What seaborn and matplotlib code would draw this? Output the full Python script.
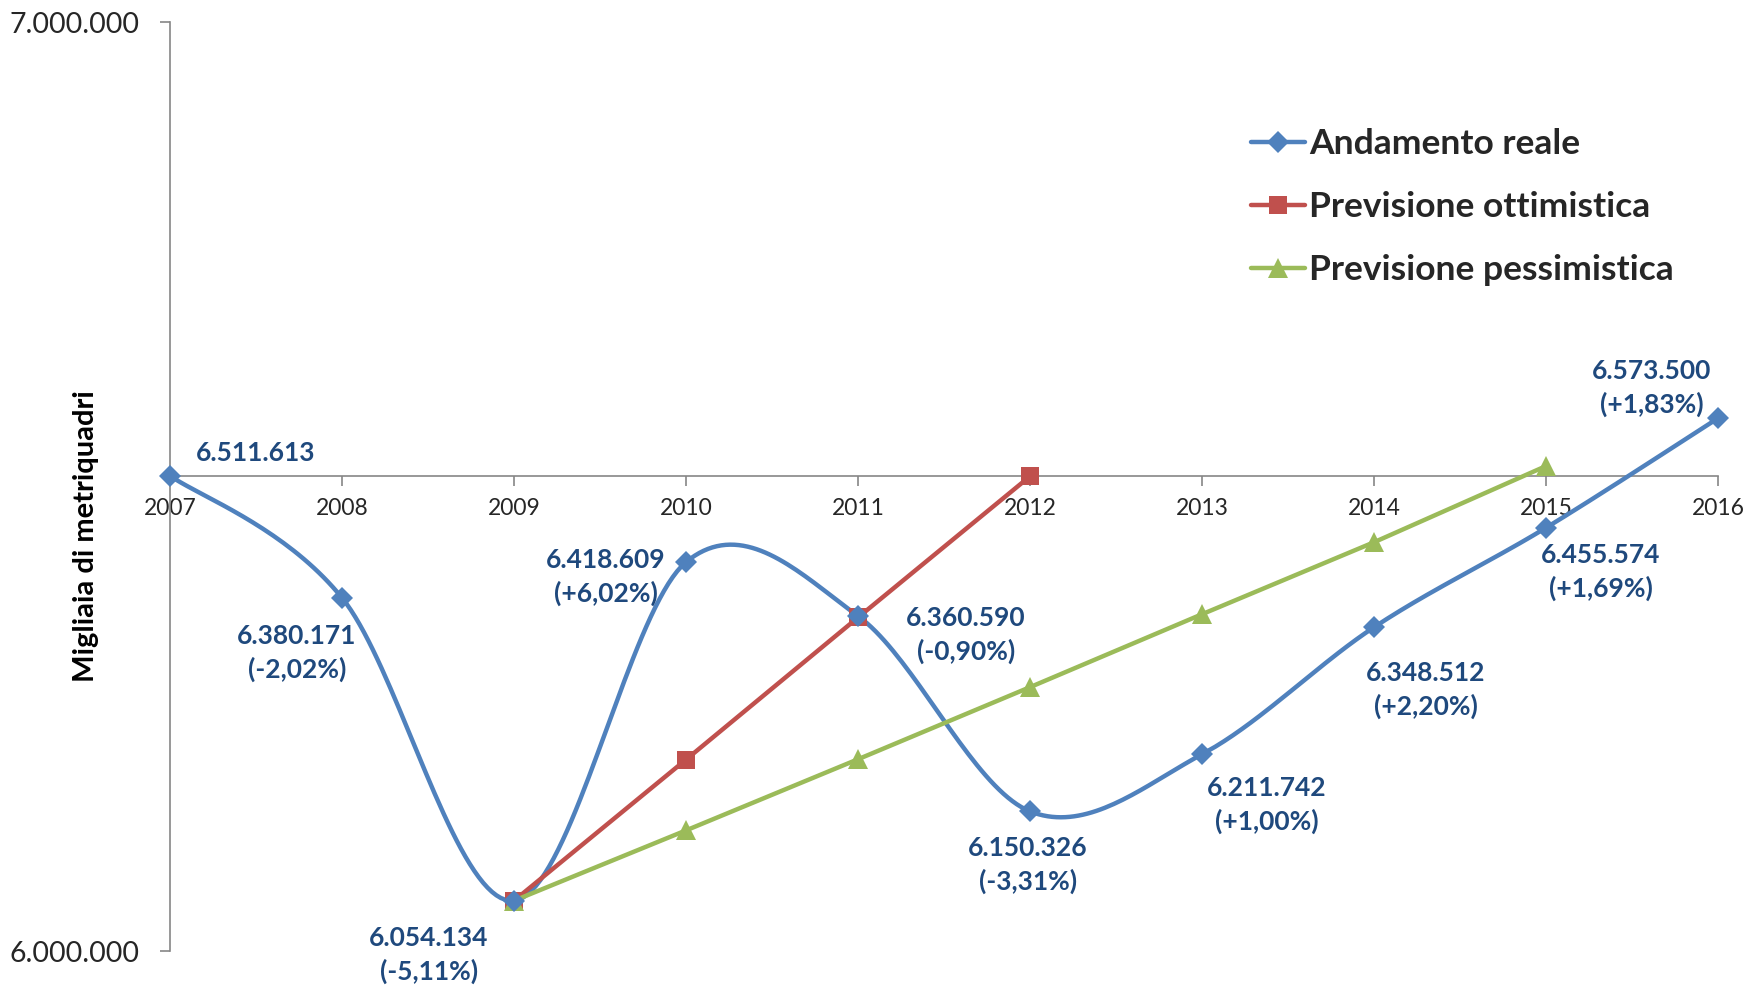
import numpy as np
import pandas as pd
import matplotlib
matplotlib.use("Agg")
import matplotlib.pyplot as plt
import seaborn as sns
from matplotlib.lines import Line2D
from matplotlib.ticker import FuncFormatter

years = [2007, 2008, 2009, 2010, 2011, 2012, 2013, 2014, 2015, 2016]
reale = [6511613, 6380171, 6054134, 6418609, 6360590, 6150326, 6211742, 6348512, 6455574, 6573500]
var_pct = ["", "(-2,02%)", "(-5,11%)", "(+6,02%)", "(-0,90%)", "(-3,31%)",
           "(+1,00%)", "(+2,20%)", "(+1,69%)", "(+1,83%)"]

anni_ott = [2009, 2010, 2011, 2012]
ottimistica = [6054134, 6206000, 6359000, 6511000]

anni_pess = [2009, 2010, 2011, 2012, 2013, 2014, 2015]
pessimistica = [6054134, 6129800, 6206400, 6284000, 6362500, 6440000, 6522000]

# label offsets in pixels (dx, dy) from each point
label_off = [(86, 23), (-45, -55), (-85, -54), (-80, -15), (108, -19),
             (-2, -54), (65, -51), (52, -63), (55, -44), (-66, 30)]

BLUE = "#4F81BD"
RED = "#C0504D"
GREEN = "#9BBB59"
LABEL = "#1F497D"
AXIS = "#868686"

sns.set_theme(style="white")
plt.rcParams['font.family'] = ['Lato', 'DejaVu Sans']


def smooth(xs, ys, n=40):
    # excel-like smoothed line (catmull-rom bezier)
    p = np.column_stack([xs, ys]).astype(float)
    out = []
    for i in range(len(p) - 1):
        p0 = p[i - 1] if i > 0 else p[i]
        p1, p2 = p[i], p[i + 1]
        p3 = p[i + 2] if i + 2 < len(p) else p[i + 1]
        c1 = p1 + (p2 - p0) / 6
        c2 = p2 - (p3 - p1) / 6
        t = np.linspace(0, 1, n)[:, None]
        seg = ((1 - t) ** 3) * p1 + 3 * ((1 - t) ** 2) * t * c1 + 3 * (1 - t) * t ** 2 * c2 + t ** 3 * p2
        out.append(seg if i == 0 else seg[1:])
    s = np.vstack(out)
    return s[:, 0], s[:, 1]


fig = plt.figure(figsize=(17.5, 9.91), dpi=100)
ax = fig.add_axes([170 / 1750, 1 - 951 / 991, (1718 - 170) / 1750, (951 - 22) / 991])

sx, sy = smooth(years, reale)
sns.lineplot(x=sx, y=sy, ax=ax, color=BLUE, lw=3.2, sort=False, zorder=3)
sns.lineplot(x=anni_ott, y=ottimistica, ax=ax, color=RED, lw=3.2, marker="s",
             markersize=13, markeredgewidth=0, zorder=4)
sns.lineplot(x=anni_pess, y=pessimistica, ax=ax, color=GREEN, lw=3.2, marker="^",
             markersize=15, markeredgewidth=0, zorder=5)
ax.plot(years, reale, ls="none", marker="D", color=BLUE, markersize=11,
        markeredgewidth=0, zorder=6, clip_on=False)
for ln in ax.lines:
    ln.set_clip_on(False)

for x, v, pct, (dx, dy) in zip(years, reale, var_pct, label_off):
    txt = f"{v:,}".replace(",", ".")
    if pct:
        txt += "\n" + pct
    ax.annotate(txt, (x, v), xytext=(dx, dy), textcoords="offset pixels",
                ha="center", va="center", fontsize=19, fontweight="bold",
                color=LABEL, linespacing=1.42, zorder=7)

ax.set_xlim(2007, 2016)
ax.set_ylim(6000000, 7000000)
ax.set_xticks(years)
ax.set_yticks([6000000, 7000000])
ax.yaxis.set_major_formatter(FuncFormatter(lambda v, p: f"{int(v):,}".replace(",", ".")))

for s in ["top", "right"]:
    ax.spines[s].set_visible(False)
ax.spines["bottom"].set_position(("data", reale[0]))
for s in ["left", "bottom"]:
    ax.spines[s].set_color(AXIS)
    ax.spines[s].set_linewidth(1.2)
ax.tick_params(axis="x", direction="out", length=7, width=1.2, color=AXIS,
               labelsize=16.5, pad=9, bottom=True)
ax.tick_params(axis="y", direction="out", length=7, width=1.2, color=AXIS,
               labelsize=20.5, pad=15, left=True)
ax.set_xlabel("")
ax.set_ylabel("")

fig.text(86 / 1750, 1 - 536 / 991, "Migliaia di metriquadri", rotation=90,
         ha="center", va="center", fontsize=21, fontweight="bold", color="black")

handles = [
    Line2D([], [], color=BLUE, lw=3.2, marker="D", markersize=11, markeredgewidth=0),
    Line2D([], [], color=RED, lw=3.2, marker="s", markersize=13, markeredgewidth=0),
    Line2D([], [], color=GREEN, lw=3.2, marker="^", markersize=15, markeredgewidth=0),
]
names = ["Andamento reale", "Previsione ottimistica", "Previsione pessimistica"]
leg = fig.legend(handles, names, loc="upper left", bbox_to_anchor=(1251 / 1750, 1 - 128 / 991),
                 frameon=False, handlelength=1.53, handletextpad=0.12, labelspacing=0.88,
                 borderpad=0, borderaxespad=0, prop={"size": 25.5, "weight": "bold"})

fig.savefig("out.png", dpi=100)
